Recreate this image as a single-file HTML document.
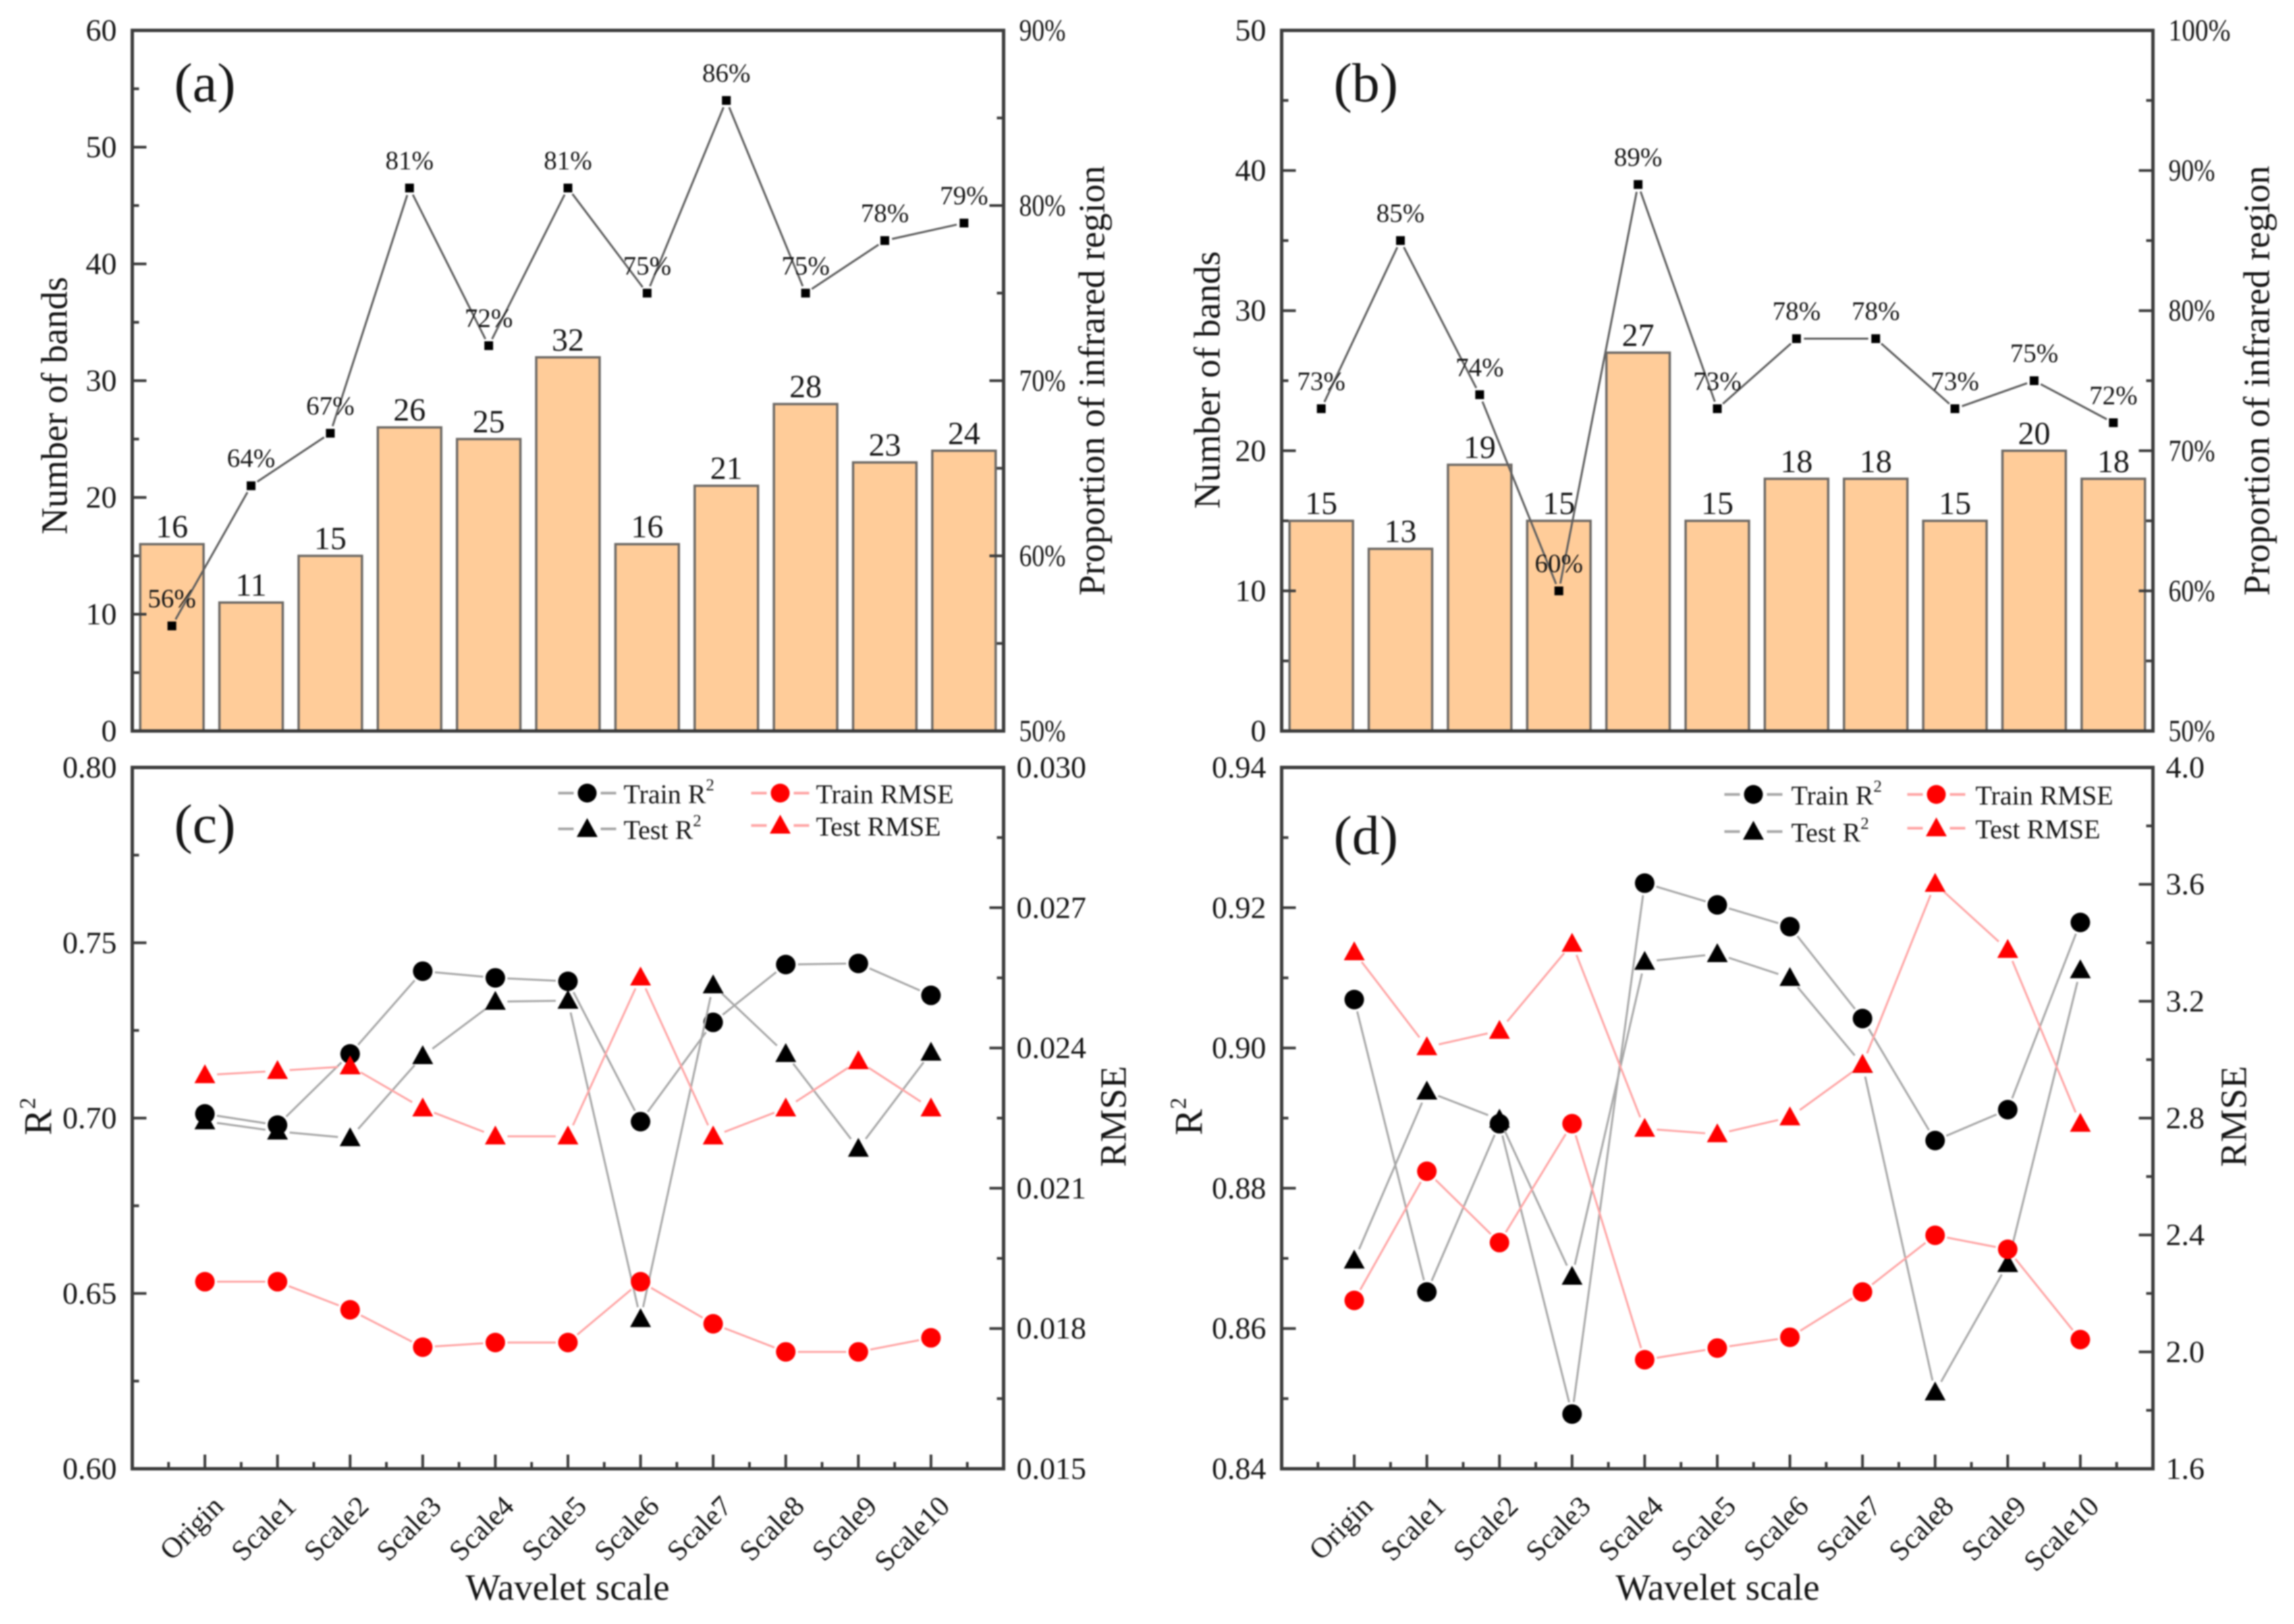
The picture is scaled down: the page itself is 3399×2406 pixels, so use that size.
<!DOCTYPE html>
<html lang="en">
<head>
<meta charset="utf-8">
<title>Wavelet scale band selection and model performance</title>
<style>
html,body{margin:0;padding:0;background:#fff;}
#figure{display:block;width:3399px;height:2406px;filter:blur(1.1px);}
text{font-family:"Liberation Serif",serif;fill:#161616;}
</style>
</head>
<body>
<svg id="figure" xmlns="http://www.w3.org/2000/svg" width="3399" height="2406" viewBox="0 0 3399 2406"></svg>
<script>
const categories = ['Origin','Scale1','Scale2','Scale3','Scale4','Scale5','Scale6','Scale7','Scale8','Scale9','Scale10'];

const bandsA = [16,11,15,26,25,32,16,21,28,23,24];
const proportionA = [56,64,67,81,72,81,75,86,75,78,79];
const bandsB = [15,13,19,15,27,15,18,18,15,20,18];
const proportionB = [73,85,74,60,89,73,78,78,73,75,72];

const trainR2C = [0.7012,0.698,0.7183,0.7419,0.74,0.739,0.699,0.7273,0.7438,0.7441,0.735];
const testR2C = [0.6991,0.6962,0.6943,0.7177,0.7332,0.7335,0.6427,0.7379,0.7183,0.6913,0.7187];
const trainRmseC = [0.0190,0.0190,0.0184,0.0176,0.0177,0.0177,0.0190,0.0181,0.0175,0.0175,0.0178];
const testRmseC = [0.02342,0.02351,0.02361,0.02271,0.02211,0.02211,0.02551,0.02211,0.02271,0.02372,0.02271];

const trainR2D = [0.9069,0.8652,0.8892,0.8478,0.9235,0.9204,0.9173,0.9042,0.8868,0.8912,0.9179];
const testR2D = [0.8697,0.8938,0.8898,0.8674,0.9123,0.9134,0.91,0.8976,0.8509,0.8692,0.9111];
const trainRmseD = [2.176,2.618,2.374,2.781,1.973,2.013,2.05,2.205,2.399,2.351,2.042];
const testRmseD = [3.368,3.043,3.099,3.397,2.764,2.745,2.803,2.983,3.602,3.376,2.781];

const leftTicksA = ['0','10','20','30','40','50','60'];
const rightTicksA = ['50%','60%','70%','80%','90%'];
const leftTicksB = ['0','10','20','30','40','50'];
const rightTicksB = ['50%','60%','70%','80%','90%','100%'];
const leftTicksC = ['0.60','0.65','0.70','0.75','0.80'];
const rightTicksC = ['0.015','0.018','0.021','0.024','0.027','0.030'];
const leftTicksD = ['0.84','0.86','0.88','0.90','0.92','0.94'];
const rightTicksD = ['1.6','2.0','2.4','2.8','3.2','3.6','4.0'];

const NS = 'http://www.w3.org/2000/svg';
const root = document.getElementById('figure');
const AXIS = '#3c3c3c';
const BLACK_LINE = '#a8a8a8';
const RED_LINE = '#ffa6a6';

function make(parent, tag, name, attrs) {
  const el = document.createElementNS(NS, tag);
  
  
  for (const k in attrs) el.setAttribute(k, attrs[k]);
  parent.appendChild(el);
  return el;
}
function label(parent, name, str, x, y, size, anchor, extra) {
  const attrs = Object.assign({x: x, y: y, 'font-size': size, 'text-anchor': anchor || 'middle'}, extra || {});
  const el = make(parent, 'text', name, attrs);
  el.textContent = str;
  return el;
}
function linear(d0, d1, r0, r1) {
  return function (v) { return r0 + (v - d0) * (r1 - r0) / (d1 - d0); };
}
function vtitle(parent, name, str, x, y, size) {
  return label(parent, name, str, 0, 0, size, 'middle', {transform: 'translate(' + x + ',' + y + ') rotate(-90)'});
}

function frame(g, box) {
  make(g, 'rect', 'plot-frame', {x: box.l, y: box.t, width: box.r - box.l, height: box.b - box.t, fill: 'none', stroke: AXIS, 'stroke-width': 5});
}
function yAxis(g, box, side, tickLabels, labelX, pctWidth) {
  const n = tickLabels.length;
  const edge = side === 'left' ? box.l : box.r;
  const dir = side === 'left' ? 1 : -1;
  const pos = linear(0, n - 1, box.b, box.t);
  for (let i = 0; i < n; i++) {
    const y = pos(i);
    make(g, 'line', side + '-major-tick', {x1: edge, x2: edge + dir * 21, y1: y, y2: y, stroke: AXIS, 'stroke-width': 4});
    if (i < n - 1) {
      const ym = pos(i + 0.5);
      make(g, 'line', side + '-minor-tick', {x1: edge, x2: edge + dir * 10, y1: ym, y2: ym, stroke: AXIS, 'stroke-width': 4});
    }
    const extra = {};
    if (pctWidth) {
      extra.textLength = pctWidth * tickLabels[i].length;
      extra.lengthAdjust = 'spacingAndGlyphs';
    }
    label(g, side + '-tick-label', tickLabels[i], labelX, y + 15, 46, side === 'left' ? 'end' : 'start', extra);
  }
}
function bandScale(box, count) {
  const step = (box.r - box.l) / count;
  return function (i) { return box.l + step * (i + 0.5); };
}
function pointScale(box, count) {
  const step = (box.r - box.l) / (count + 1);
  return function (i) { return box.l + step * (i + 1); };
}
function gappedLine(g, name, pts, gap, color, width) {
  for (let i = 0; i < pts.length - 1; i++) {
    const a = pts[i], b = pts[i + 1];
    const dx = b[0] - a[0], dy = b[1] - a[1];
    const len = Math.hypot(dx, dy);
    if (len <= gap * 2) continue;
    const ux = dx / len, uy = dy / len;
    make(g, 'line', name, {x1: a[0] + ux * gap, y1: a[1] + uy * gap, x2: b[0] - ux * gap, y2: b[1] - uy * gap, stroke: color, 'stroke-width': width});
  }
}
function triangle(g, name, x, y, color) {
  const pts = [[x, y - 16], [x + 15.5, y + 12], [x - 15.5, y + 12]].map(function (p) { return p.join(','); }).join(' ');
  make(g, 'polygon', name, {points: pts, fill: color});
}

function barPanel(id, box, bands, props, leftTicks, rightTicks, bandMax, propMin, propMax, letter, titles) {
  const g = make(root, 'g', 'panel-' + id, {});
  const x = bandScale(box, categories.length);
  const yL = linear(0, bandMax, box.b, box.t);
  const yR = linear(propMin, propMax, box.b, box.t);
  const step = (box.r - box.l) / categories.length;
  const bw = step * 0.8;
  bands.forEach(function (v, i) {
    make(g, 'rect', 'bar-' + categories[i].toLowerCase(), {x: x(i) - bw / 2, y: yL(v), width: bw, height: box.b - yL(v), fill: '#ffcc99', stroke: '#6e6a66', 'stroke-width': 3.5});
  });
  bands.forEach(function (v, i) {
    label(g, 'bar-value', String(v), x(i), yL(v) - 10, 48);
  });
  const pts = props.map(function (v, i) { return [x(i), yR(v)]; });
  gappedLine(g, 'proportion-line', pts, 11, '#5f5f5f', 3);
  pts.forEach(function (p) {
    make(g, 'rect', 'proportion-point', {x: p[0] - 6.5, y: p[1] - 6.5, width: 13, height: 13, fill: '#000'});
  });
  props.forEach(function (v, i) {
    label(g, 'proportion-label', v + '%', pts[i][0], pts[i][1] - 28, 39, 'middle', {fill: '#2e2e2e'});
  });
  frame(g, box);
  yAxis(g, box, 'left', leftTicks, box.l - 23, 0);
  yAxis(g, box, 'right', rightTicks, box.r + 23, 23);
  label(g, 'panel-label', letter, titles.lx, titles.ly, 82, 'start', {fill: '#111'});
  vtitle(g, 'y-axis-title', 'Number of bands', titles.nx, titles.ny, 55);
  vtitle(g, 'right-axis-title', 'Proportion of infrared region', titles.px, titles.py, 55);
}

function legendEntry(g, box, name, str, lineX1, lineX2, y, textX, baseline, color, lineColor, shape, sup) {
  const cx = (lineX1 + lineX2) / 2;
  make(g, 'line', name + '-line', {x1: lineX1, x2: lineX2, y1: y, y2: y, stroke: lineColor, 'stroke-width': 4});
  make(g, 'rect', name + '-gap', {x: cx - 20, y: y - 20, width: 40, height: 40, fill: '#fff'});
  if (shape === 'circle') {
    make(g, 'circle', name + '-marker', {cx: cx, cy: y, r: 14, fill: color});
  } else {
    triangle(g, name + '-marker', cx, y, color);
  }
  const t = label(g, name + '-text', str, textX, baseline, 40, 'start');
  if (sup) {
    const s = make(t, 'tspan', name + '-superscript', {'font-size': 25, dy: -19});
    s.textContent = '2';
  }
}

function linePanel(id, box, series, leftTicks, rightTicks, lMin, lMax, rMin, rMax, letter, opts) {
  const g = make(root, 'g', 'panel-' + id, {});
  const x = pointScale(box, categories.length);
  const yL = linear(lMin, lMax, box.b, box.t);
  const yR = linear(rMin, rMax, box.b, box.t);
  const step = x(1) - x(0);

  function draw(values, scale, name, lineColor, color, shape) {
    const pts = values.map(function (v, i) { return [x(i), scale(v)]; });
    gappedLine(g, name + '-line', pts, 18, lineColor, 3);
    pts.forEach(function (p) {
      if (shape === 'circle') {
        make(g, 'circle', name + '-point', {cx: p[0], cy: p[1], r: 14.5, fill: color});
      } else {
        triangle(g, name + '-point', p[0], p[1], color);
      }
    });
  }
  draw(series.trainR2, yL, 'train-r2', BLACK_LINE, '#000', 'circle');
  draw(series.testR2, yL, 'test-r2', BLACK_LINE, '#000', 'triangle');
  draw(series.trainRmse, yR, 'train-rmse', RED_LINE, '#f00', 'circle');
  draw(series.testRmse, yR, 'test-rmse', RED_LINE, '#f00', 'triangle');

  frame(g, box);
  yAxis(g, box, 'left', leftTicks, box.l - 23, 0);
  yAxis(g, box, 'right', rightTicks, box.r + 19, 0);
  categories.forEach(function (c, i) {
    const px = x(i);
    make(g, 'line', 'x-major-tick', {x1: px, x2: px, y1: box.b, y2: box.b - 21, stroke: AXIS, 'stroke-width': 4});
    make(g, 'line', 'x-minor-tick', {x1: px - step / 2, x2: px - step / 2, y1: box.b, y2: box.b - 10, stroke: AXIS, 'stroke-width': 4});
    if (i === categories.length - 1) {
      make(g, 'line', 'x-minor-tick', {x1: px + step / 2, x2: px + step / 2, y1: box.b, y2: box.b - 10, stroke: AXIS, 'stroke-width': 4});
    }
    const ax = px + 30, ay = box.b + 58;
    label(g, 'x-tick-label', c, 0, 0, 43, 'end', {transform: 'translate(' + ax + ',' + ay + ') rotate(-45)'});
  });
  label(g, 'x-axis-title', 'Wavelet scale', opts.tx, 2370, 55);
  label(g, 'panel-label', letter, opts.lx, opts.ly, 82, 'start', {fill: '#111'});

  const yt = vtitle(g, 'y-axis-title', 'R', opts.r2x, opts.ty, 58);
  const ys = make(yt, 'tspan', 'y-axis-title-superscript', {'font-size': 34, dy: -24});
  ys.textContent = '2';
  vtitle(g, 'right-axis-title', 'RMSE', opts.rmsex, opts.ty, 55);

  const lg = make(g, 'g', 'legend', {});
  const L = opts.legend;
  legendEntry(lg, box, 'legend-train-r2', 'Train R', L.x1, L.x1 + 86, L.y1, L.t1, L.y1 + 15, '#000', BLACK_LINE, 'circle', true);
  legendEntry(lg, box, 'legend-test-r2', 'Test R', L.x1, L.x1 + 86, L.y2, L.t1, L.y2 + 15, '#000', BLACK_LINE, 'triangle', true);
  legendEntry(lg, box, 'legend-train-rmse', 'Train RMSE', L.x2, L.x2 + 86, L.y1, L.t2, L.y1 + 15, '#f00', RED_LINE, 'circle', false);
  legendEntry(lg, box, 'legend-test-rmse', 'Test RMSE', L.x2, L.x2 + 86, L.y3, L.t2, L.y3 + 15, '#f00', RED_LINE, 'triangle', false);
}

const boxA = {l: 196, r: 1487, t: 45, b: 1083};
const boxB = {l: 1899, r: 3190, t: 45, b: 1083};
const boxC = {l: 196, r: 1487, t: 1137, b: 2176};
const boxD = {l: 1899, r: 3190, t: 1137, b: 2176};

barPanel('a', boxA, bandsA, proportionA, leftTicksA, rightTicksA, 60, 50, 90, '(a)', {lx: 258, ly: 150, nx: 99, ny: 601, px: 1636, py: 564});
barPanel('b', boxB, bandsB, proportionB, leftTicksB, rightTicksB, 50, 50, 100, '(b)', {lx: 1976, ly: 150, nx: 1807, ny: 563, px: 3362, py: 564});

linePanel('c', boxC, {trainR2: trainR2C, testR2: testR2C, trainRmse: trainRmseC, testRmse: testRmseC}, leftTicksC, rightTicksC, 0.6, 0.8, 0.015, 0.03, '(c)', {
  tx: 841, lx: 258, ly: 1248, r2x: 76, rmsex: 1668, ty: 1654,
  legend: {x1: 827, t1: 924, x2: 1113, t2: 1209, y1: 1175, y2: 1228, y3: 1223}
});
linePanel('d', boxD, {trainR2: trainR2D, testR2: testR2D, trainRmse: trainRmseD, testRmse: testRmseD}, leftTicksD, rightTicksD, 0.84, 0.94, 1.6, 4.0, '(d)', {
  tx: 2545, lx: 1976, ly: 1265, r2x: 1781, rmsex: 3328, ty: 1654,
  legend: {x1: 2555, t1: 2654, x2: 2826, t2: 2927, y1: 1177, y2: 1232, y3: 1227}
});
</script>
</body>
</html>
